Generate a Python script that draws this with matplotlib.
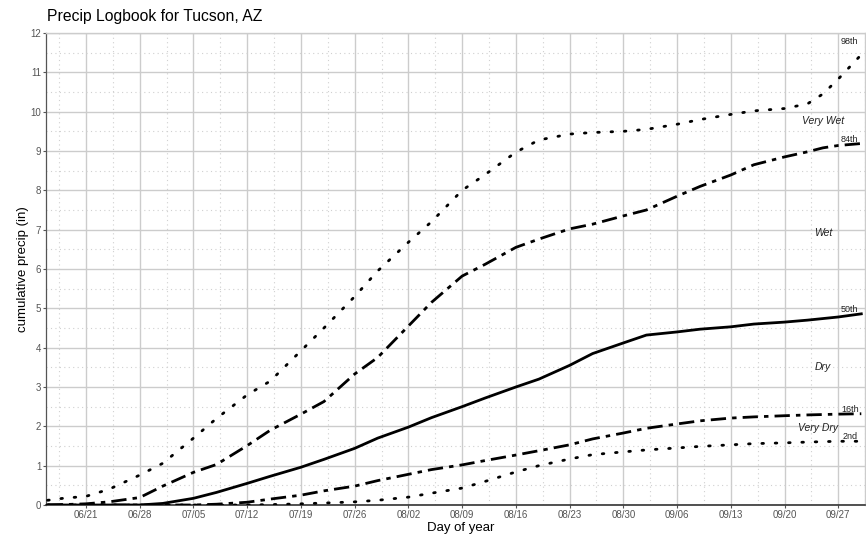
import numpy as np
import pandas as pd
import matplotlib
matplotlib.use("Agg")
import matplotlib.pyplot as plt
import matplotlib.dates as mdates

plt.rcParams['font.family'] = ['Liberation Sans', 'DejaVu Sans']

title = "Precip Logbook for Tucson, AZ"
year = 2023
dates = ["06/16", "06/18", "06/21", "06/24", "06/28", "07/01", "07/05", "07/08",
         "07/12", "07/15", "07/19", "07/22", "07/26", "07/29", "08/02", "08/05",
         "08/09", "08/12", "08/16", "08/19", "08/23", "08/26", "08/30", "09/02",
         "09/06", "09/09", "09/13", "09/16", "09/20", "09/23", "09/25", "09/27", "09/30"]

p98 = [0.12, 0.17, 0.22, 0.40, 0.76, 1.06, 1.70, 2.20, 2.80, 3.15, 3.92, 4.50,
       5.30, 5.95, 6.68, 7.20, 8.00, 8.40, 8.97, 9.28, 9.43, 9.47, 9.50, 9.55,
       9.68, 9.80, 9.93, 10.02, 10.08, 10.20, 10.45, 10.83, 11.45]
p84 = [0.00, 0.01, 0.03, 0.08, 0.19, 0.48, 0.83, 1.03, 1.51, 1.90, 2.31, 2.63,
       3.33, 3.75, 4.55, 5.15, 5.82, 6.12, 6.55, 6.76, 7.02, 7.14, 7.35, 7.50,
       7.85, 8.10, 8.39, 8.65, 8.85, 8.98, 9.08, 9.14, 9.19]
p50 = [0.00, 0.00, 0.00, 0.00, 0.00, 0.04, 0.17, 0.32, 0.55, 0.73, 0.96, 1.16,
       1.44, 1.70, 1.98, 2.22, 2.50, 2.72, 3.00, 3.20, 3.55, 3.85, 4.12, 4.32,
       4.40, 4.47, 4.53, 4.60, 4.65, 4.70, 4.74, 4.78, 4.86]
p16 = [0.00, 0.00, 0.00, 0.00, 0.00, 0.00, 0.00, 0.02, 0.07, 0.15, 0.25, 0.36,
       0.48, 0.62, 0.78, 0.90, 1.02, 1.13, 1.27, 1.38, 1.53, 1.68, 1.83, 1.95,
       2.06, 2.14, 2.21, 2.24, 2.27, 2.29, 2.30, 2.31, 2.32]
p02 = [0.00, 0.00, 0.00, 0.00, 0.00, 0.00, 0.00, 0.00, 0.00, 0.01, 0.03, 0.05,
       0.08, 0.12, 0.20, 0.30, 0.43, 0.60, 0.84, 1.00, 1.17, 1.28, 1.35, 1.40,
       1.45, 1.49, 1.53, 1.56, 1.58, 1.60, 1.61, 1.62, 1.62]

pct_labels = ["98th", "84th", "50th", "16th", "2nd"]
cat_labels = ["Very Wet", "Wet", "Dry", "Very Dry"]
xtick_labels = ["06/21", "06/28", "07/05", "07/12", "07/19", "07/26", "08/02", "08/09",
                "08/16", "08/23", "08/30", "09/06", "09/13", "09/20", "09/27"]
yticks = list(range(0, 13))

def to_dt(s):
    return pd.Timestamp(f"{year}/{s}")

x = [to_dt(d) for d in dates]
series = [p98, p84, p50, p16, p02]
dotted = (0, (0.6, 4.2))
dashdot = (0, (5.5, 2.2, 1.6, 2.2))
styles = [
    dict(linestyle=dotted, dash_capstyle='round', lw=2.0),
    dict(linestyle=dashdot, lw=2.0),
    dict(linestyle='-', lw=2.0),
    dict(linestyle=dashdot, lw=2.0),
    dict(linestyle=dotted, dash_capstyle='round', lw=2.0),
]

fig = plt.figure(figsize=(8.66, 5.36), dpi=100)
ax = fig.add_axes([46/866, 1 - 505/536, 1 - 46/866 - 0.001, (505 - 33)/536])

for s, st in zip(series, styles):
    ax.plot(x, s, color='black', **st, zorder=3)

ax.set_xlim(pd.Timestamp(f"{year}/06/15 19:00"), pd.Timestamp(f"{year}/09/30 00:00"))
ax.set_ylim(0, 12)

# ticks
xt = [to_dt(t) for t in xtick_labels]
ax.set_xticks(xt)
ax.set_xticklabels(xtick_labels)
minor_x = [to_dt(t) + pd.Timedelta(hours=84) for t in xtick_labels]
minor_x = [to_dt(xtick_labels[0]) - pd.Timedelta(hours=84)] + minor_x
ax.set_xticks(minor_x, minor=True)
ax.set_yticks(yticks)
ax.set_yticks(np.arange(0.5, 12, 1.0), minor=True)

ax.tick_params(axis='both', which='major', labelsize=7, labelcolor='#555555',
               color='#555555', length=2.2, width=0.8, pad=1.2)
ax.tick_params(axis='both', which='minor', length=0)

ax.grid(True, which='major', color='#cccccc', lw=1.0, zorder=0)
ax.grid(True, which='minor', color='#d0d0d0', lw=0.8, linestyle=(0, (1, 3)), zorder=0)
ax.set_axisbelow(True)

for side in ['top', 'right']:
    ax.spines[side].set_color('#cccccc')
    ax.spines[side].set_linewidth(1.0)
ax.spines['left'].set_color('#555555')
ax.spines['bottom'].set_color('#333333')
ax.spines['left'].set_linewidth(0.9)
ax.spines['bottom'].set_linewidth(1.2)

ax.set_ylabel("cumulative precip (in)", fontsize=9.5)
ax.yaxis.set_label_coords(-0.0207, 0.5)
ax.set_xlabel("Day of year", fontsize=9.5)
ax.xaxis.set_label_coords(0.506, -0.035)
fig.text(47/866, 1 - 17/536, title, fontsize=11.3, va='center', ha='left')

# percentile labels
lab_x = to_dt("09/28") + pd.Timedelta(hours=12)
extra = [0.22, 0, 0, 0, 0]
for lab, s, e in zip(pct_labels, series, extra):
    ax.text(lab_x, s[-1] + e, lab, fontsize=6.5, ha='center', va='bottom',
            color='#222222', zorder=4)

# category labels at midpoints between curves
cx = to_dt("09/25")
cxn = mdates.date2num(cx)
xn = mdates.date2num(x)
vals = [np.interp(cxn, xn, s) for s in series]
cat_x = [cx, cx, cx, to_dt("09/24") + pd.Timedelta(hours=8)]
for i, lab in enumerate(cat_labels):
    ax.text(cat_x[i], (vals[i] + vals[i + 1]) / 2, lab, fontsize=7.5,
            style='italic', ha='center', va='center', color='#222222', zorder=4)

fig.savefig("out.png", dpi=100)
